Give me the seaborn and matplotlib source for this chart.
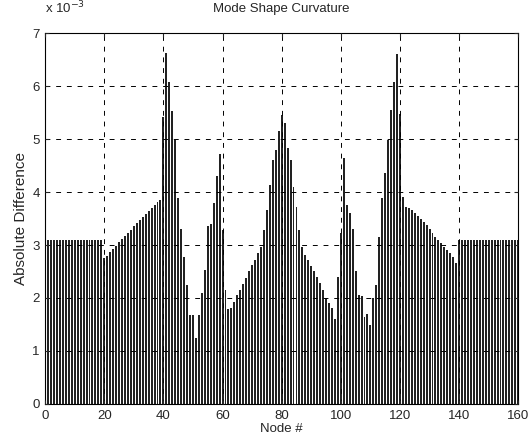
import numpy as np
import pandas as pd
import matplotlib
matplotlib.use('Agg')
import matplotlib.pyplot as plt
import seaborn as sns

# -------------------------------
# Data (values in units of 1e-3)
# -------------------------------
nodes = list(range(0, 161))

flat_left = [3.1] * 20                      # nodes 0-19
ramp_left = [2.75, 2.80, 2.87, 2.93, 2.99, 3.05, 3.11, 3.17, 3.23, 3.29,
             3.35, 3.41, 3.47, 3.53, 3.58, 3.64, 3.69, 3.75, 3.82, 3.85]   # 20-39
peak_left = [5.42, 6.62, 6.08, 5.52, 4.98, 3.88, 3.30, 2.78, 2.25, 1.68,
             1.68, 1.25, 1.68, 2.09, 2.53, 3.35, 3.40, 3.79, 4.30, 4.72]   # 40-59
middle = [3.28, 2.15, 1.80, 1.82, 1.92, 2.05, 2.15, 2.27, 2.37, 2.50,
          2.62, 2.72, 2.85, 2.97, 3.28, 3.66, 4.13, 4.60, 4.80, 5.15,
          5.45, 5.30, 4.83, 4.60, 4.10, 3.72, 3.28, 2.97, 2.81, 2.72,
          2.60, 2.50, 2.40, 2.28, 2.15, 2.00, 1.90, 1.81, 1.60, 2.40]      # 60-99
peak_right = [3.22, 4.65, 3.75, 3.60, 3.30, 2.50, 2.06, 2.03, 1.65, 1.70,
              1.49, 2.00, 2.25, 3.16, 3.88, 4.35, 4.98, 5.55, 6.08, 6.60]  # 100-119
ramp_right = [5.48, 3.91, 3.72, 3.69, 3.66, 3.60, 3.55, 3.50, 3.44, 3.38,
              3.30, 3.22, 3.15, 3.09, 3.03, 2.97, 2.91, 2.85, 2.78, 2.66]  # 120-139
flat_right = [3.1] * 21                     # nodes 140-160

abs_diff = flat_left + ramp_left + peak_left + middle + peak_right + ramp_right + flat_right

df = pd.DataFrame({'node': nodes, 'value': abs_diff})

# -------------------------------
# Plot
# -------------------------------
sns.set_style('white')
plt.rcParams['font.family'] = ['Liberation Sans', 'DejaVu Sans']

fig = plt.figure(figsize=(5.31, 4.41), dpi=100)
ax = fig.add_axes([0.085, 0.084, 0.891, 0.841])

sns.barplot(data=df, x='node', y='value', native_scale=True, color='#222222',
            width=0.66, errorbar=None, edgecolor='none', ax=ax)

ax.set_xlim(0, 160)
ax.set_ylim(0, 7)
ax.set_xticks(range(0, 161, 20))
ax.set_yticks(range(0, 8))
ax.grid(True, color='black', linestyle=(0, (5, 6)), linewidth=0.7)
ax.set_axisbelow(False)

for s in ax.spines.values():
    s.set_color('black')
    s.set_linewidth(0.8)

ax.tick_params(direction='in', length=3, labelsize=9.5, top=True, right=True,
               bottom=True, left=True, pad=4)
ax.set_title('Mode Shape Curvature', fontsize=9.5, pad=15)
ax.set_xlabel('Node #', fontsize=9.5, labelpad=1)
ax.set_ylabel('Absolute Difference', fontsize=11, labelpad=3)
ax.text(0.0, 1.045, r'x 10$^{-3}$', transform=ax.transAxes, fontsize=9.5,
        ha='left', va='bottom')

fig.savefig('out.png', dpi=100)
